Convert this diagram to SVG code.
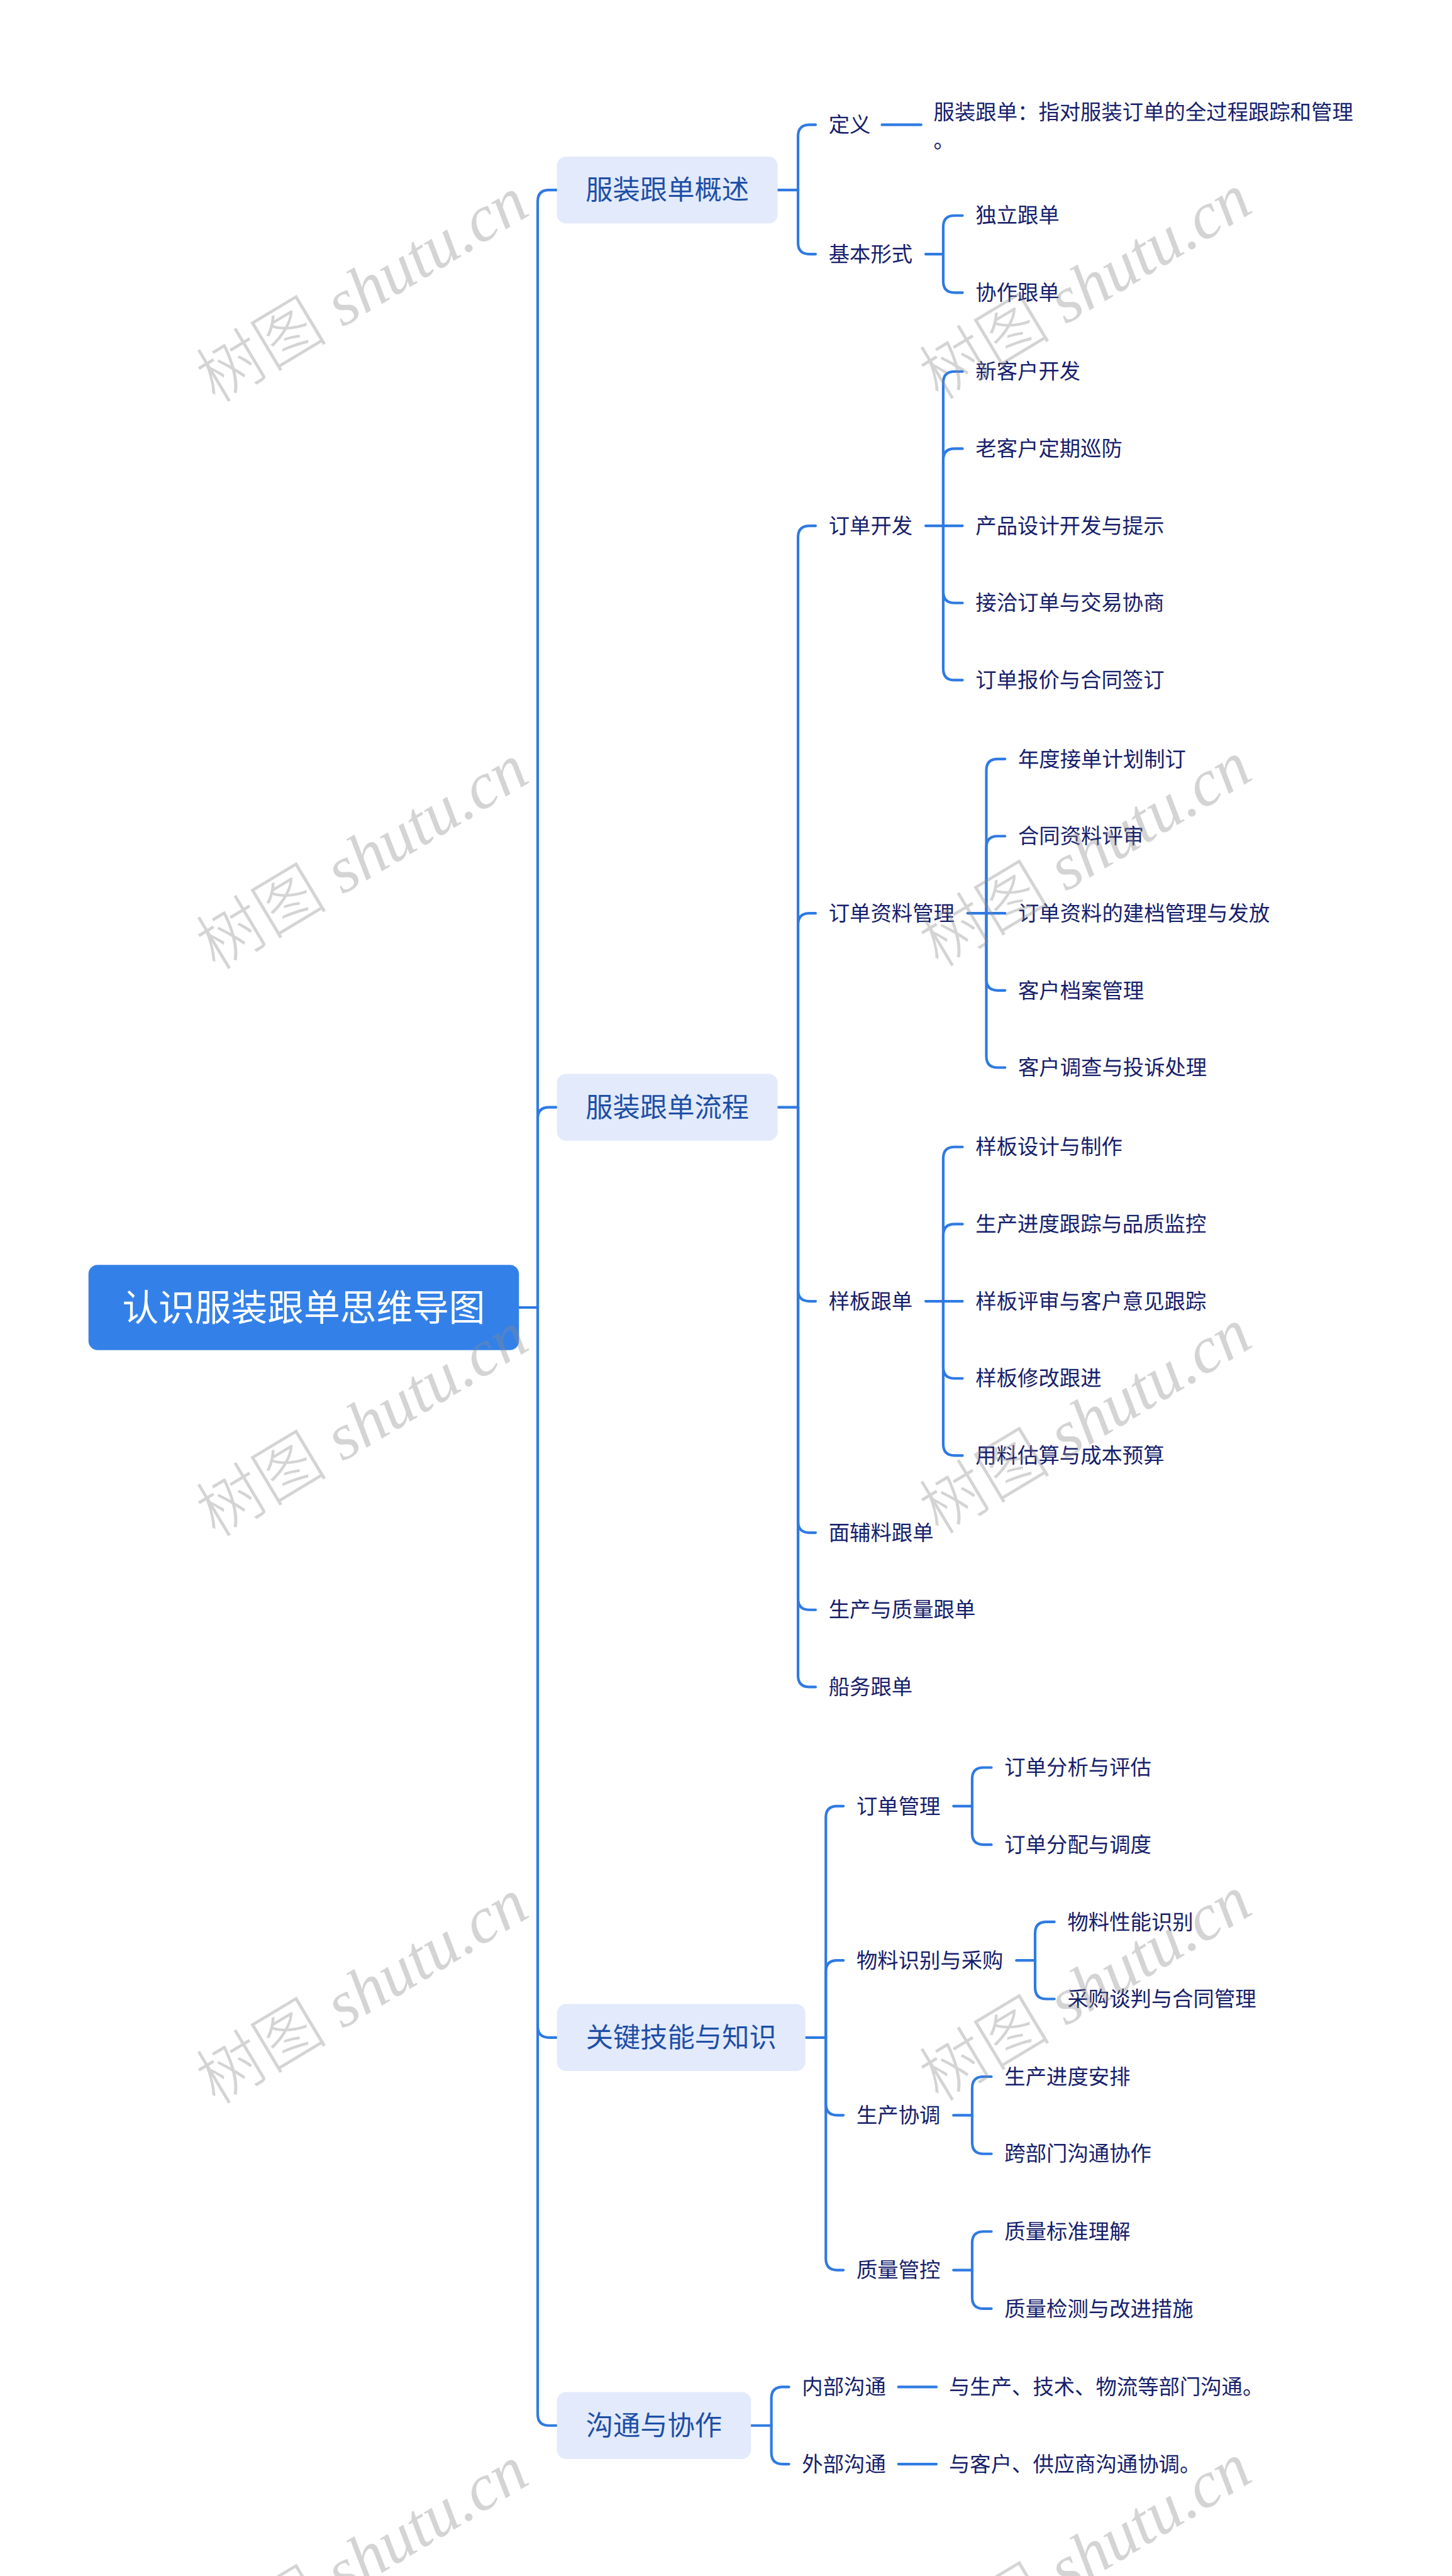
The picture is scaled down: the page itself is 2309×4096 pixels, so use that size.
<svg xmlns="http://www.w3.org/2000/svg" width="2309" height="4096" viewBox="0 0 2309 4096">
<style>
.c{fill:none;stroke:#2e7ae2;stroke-width:4.6;stroke-linecap:round;stroke-linejoin:round}
.t{font-family:"Noto Sans CJK SC","Noto Sans",sans-serif;font-size:37px;fill:#16206b}
.t1{font-family:"Noto Sans CJK SC","Noto Sans",sans-serif;font-size:48px;fill:#1e4fa6;text-anchor:middle}
.t0{font-family:"Noto Sans CJK SC","Noto Sans",sans-serif;font-size:64px;fill:#ffffff;text-anchor:middle}
.b1{fill:#e2eafb}
.wm{font-family:"Liberation Serif","Noto Sans CJK SC",serif;font-style:italic;font-size:116px;fill:#8a8a8a;opacity:0.36}
.wm .cj{font-style:normal;font-weight:300}
</style>
<rect width="2309" height="4096" fill="#ffffff"/>
<g transform="scale(0.90195)">
<g id="connectors">
<path class="c" d="M915,2305 H948"/>
<path class="c" d="M948,2305 V355 Q948,335 968,335 H982"/>
<path class="c" d="M948,2305 V1972 Q948,1952 968,1952 H982"/>
<path class="c" d="M948,2305 V3572 Q948,3592 968,3592 H982"/>
<path class="c" d="M948,2305 V4256 Q948,4276 968,4276 H982"/>
<path class="c" d="M1371,335 H1407"/>
<path class="c" d="M1407,335 V240 Q1407,220 1427,220 H1438"/>
<path class="c" d="M1407,335 V428 Q1407,448 1427,448 H1438"/>
<path class="c" d="M1555,220 H1624"/>
<path class="c" d="M1632,448 H1663"/>
<path class="c" d="M1663,448 V400 Q1663,380 1683,380 H1697"/>
<path class="c" d="M1663,448 V496 Q1663,516 1683,516 H1697"/>
<path class="c" d="M1371,1952 H1407"/>
<path class="c" d="M1407,1952 V947 Q1407,927 1427,927 H1438"/>
<path class="c" d="M1407,1952 V1630 Q1407,1610 1427,1610 H1438"/>
<path class="c" d="M1407,1952 V2274 Q1407,2294 1427,2294 H1438"/>
<path class="c" d="M1407,1952 V2682 Q1407,2702 1427,2702 H1438"/>
<path class="c" d="M1407,1952 V2818 Q1407,2838 1427,2838 H1438"/>
<path class="c" d="M1407,1952 V2954 Q1407,2974 1427,2974 H1438"/>
<path class="c" d="M1632,927 H1663"/>
<path class="c" d="M1663,927 V675 Q1663,655 1683,655 H1697"/>
<path class="c" d="M1663,927 V811 Q1663,791 1683,791 H1697"/>
<path class="c" d="M1663,927 H1697"/>
<path class="c" d="M1663,927 V1043 Q1663,1063 1683,1063 H1697"/>
<path class="c" d="M1663,927 V1179 Q1663,1199 1683,1199 H1697"/>
<path class="c" d="M1706,1610 H1739"/>
<path class="c" d="M1739,1610 V1358 Q1739,1338 1759,1338 H1772"/>
<path class="c" d="M1739,1610 V1494 Q1739,1474 1759,1474 H1772"/>
<path class="c" d="M1739,1610 H1772"/>
<path class="c" d="M1739,1610 V1726 Q1739,1746 1759,1746 H1772"/>
<path class="c" d="M1739,1610 V1862 Q1739,1882 1759,1882 H1772"/>
<path class="c" d="M1632,2294 H1663"/>
<path class="c" d="M1663,2294 V2042 Q1663,2022 1683,2022 H1697"/>
<path class="c" d="M1663,2294 V2178 Q1663,2158 1683,2158 H1697"/>
<path class="c" d="M1663,2294 H1697"/>
<path class="c" d="M1663,2294 V2410 Q1663,2430 1683,2430 H1697"/>
<path class="c" d="M1663,2294 V2546 Q1663,2566 1683,2566 H1697"/>
<path class="c" d="M1420,3592 H1456"/>
<path class="c" d="M1456,3592 V3204 Q1456,3184 1476,3184 H1487"/>
<path class="c" d="M1456,3592 V3476 Q1456,3456 1476,3456 H1487"/>
<path class="c" d="M1456,3592 V3709 Q1456,3729 1476,3729 H1487"/>
<path class="c" d="M1456,3592 V3982 Q1456,4002 1476,4002 H1487"/>
<path class="c" d="M1681,3184 H1714"/>
<path class="c" d="M1714,3184 V3136 Q1714,3116 1734,3116 H1748"/>
<path class="c" d="M1714,3184 V3232 Q1714,3252 1734,3252 H1748"/>
<path class="c" d="M1792,3456 H1825"/>
<path class="c" d="M1825,3456 V3408 Q1825,3388 1845,3388 H1859"/>
<path class="c" d="M1825,3456 V3504 Q1825,3524 1845,3524 H1859"/>
<path class="c" d="M1681,3729 H1714"/>
<path class="c" d="M1714,3729 V3681 Q1714,3661 1734,3661 H1748"/>
<path class="c" d="M1714,3729 V3777 Q1714,3797 1734,3797 H1748"/>
<path class="c" d="M1681,4002 H1714"/>
<path class="c" d="M1714,4002 V3954 Q1714,3934 1734,3934 H1748"/>
<path class="c" d="M1714,4002 V4050 Q1714,4070 1734,4070 H1748"/>
<path class="c" d="M1324,4276 H1360"/>
<path class="c" d="M1360,4276 V4228 Q1360,4208 1380,4208 H1391"/>
<path class="c" d="M1360,4276 V4324 Q1360,4344 1380,4344 H1391"/>
<path class="c" d="M1584,4208 H1651"/>
<path class="c" d="M1584,4344 H1651"/>
</g>
<g id="root"><rect x="156" y="2230" width="759" height="150" rx="16" fill="#3381e8"/><text class="t0" x="535.5" y="2328">认识服装跟单思维导图</text></g>
<g id="n-overview"><rect class="b1" x="982" y="276" width="389" height="118" rx="16"/><text class="t1" x="1176.5" y="352">服装跟单概述</text></g>
<g id="n-process"><rect class="b1" x="982" y="1893" width="389" height="118" rx="16"/><text class="t1" x="1176.5" y="1969">服装跟单流程</text></g>
<g id="n-skills"><rect class="b1" x="982" y="3533" width="438" height="118" rx="16"/><text class="t1" x="1201" y="3609">关键技能与知识</text></g>
<g id="n-comm"><rect class="b1" x="982" y="4217" width="342" height="118" rx="16"/><text class="t1" x="1153" y="4293">沟通与协作</text></g>
<g id="n-def"><text class="t" x="1461" y="233">定义</text></g>
<g id="n-def-text"><text class="t" x="1646" y="211">服装跟单：指对服装订单的全过程跟踪和管理</text><text class="t" x="1646" y="261">。</text></g>
<g id="n-form"><text class="t" x="1461" y="461">基本形式</text></g>
<g id="n-form-1"><text class="t" x="1720" y="393">独立跟单</text></g>
<g id="n-form-2"><text class="t" x="1720" y="529">协作跟单</text></g>
<g id="n-dev"><text class="t" x="1461" y="940">订单开发</text></g>
<g id="n-dev-1"><text class="t" x="1720" y="668">新客户开发</text></g>
<g id="n-dev-2"><text class="t" x="1720" y="804">老客户定期巡防</text></g>
<g id="n-dev-3"><text class="t" x="1720" y="940">产品设计开发与提示</text></g>
<g id="n-dev-4"><text class="t" x="1720" y="1076">接洽订单与交易协商</text></g>
<g id="n-dev-5"><text class="t" x="1720" y="1212">订单报价与合同签订</text></g>
<g id="n-data"><text class="t" x="1461" y="1623">订单资料管理</text></g>
<g id="n-data-1"><text class="t" x="1795" y="1351">年度接单计划制订</text></g>
<g id="n-data-2"><text class="t" x="1795" y="1487">合同资料评审</text></g>
<g id="n-data-3"><text class="t" x="1795" y="1623">订单资料的建档管理与发放</text></g>
<g id="n-data-4"><text class="t" x="1795" y="1759">客户档案管理</text></g>
<g id="n-data-5"><text class="t" x="1795" y="1895">客户调查与投诉处理</text></g>
<g id="n-sample"><text class="t" x="1461" y="2307">样板跟单</text></g>
<g id="n-sample-1"><text class="t" x="1720" y="2035">样板设计与制作</text></g>
<g id="n-sample-2"><text class="t" x="1720" y="2171">生产进度跟踪与品质监控</text></g>
<g id="n-sample-3"><text class="t" x="1720" y="2307">样板评审与客户意见跟踪</text></g>
<g id="n-sample-4"><text class="t" x="1720" y="2443">样板修改跟进</text></g>
<g id="n-sample-5"><text class="t" x="1720" y="2579">用料估算与成本预算</text></g>
<g id="n-fabric"><text class="t" x="1461" y="2715">面辅料跟单</text></g>
<g id="n-prod"><text class="t" x="1461" y="2851">生产与质量跟单</text></g>
<g id="n-ship"><text class="t" x="1461" y="2987">船务跟单</text></g>
<g id="n-order"><text class="t" x="1510" y="3197">订单管理</text></g>
<g id="n-order-1"><text class="t" x="1771" y="3129">订单分析与评估</text></g>
<g id="n-order-2"><text class="t" x="1771" y="3265">订单分配与调度</text></g>
<g id="n-mat"><text class="t" x="1510" y="3469">物料识别与采购</text></g>
<g id="n-mat-1"><text class="t" x="1882" y="3401">物料性能识别</text></g>
<g id="n-mat-2"><text class="t" x="1882" y="3537">采购谈判与合同管理</text></g>
<g id="n-coord"><text class="t" x="1510" y="3742">生产协调</text></g>
<g id="n-coord-1"><text class="t" x="1771" y="3674">生产进度安排</text></g>
<g id="n-coord-2"><text class="t" x="1771" y="3810">跨部门沟通协作</text></g>
<g id="n-qc"><text class="t" x="1510" y="4015">质量管控</text></g>
<g id="n-qc-1"><text class="t" x="1771" y="3947">质量标准理解</text></g>
<g id="n-qc-2"><text class="t" x="1771" y="4083">质量检测与改进措施</text></g>
<g id="n-int"><text class="t" x="1414" y="4221">内部沟通</text></g>
<g id="n-int-text"><text class="t" x="1673" y="4221">与生产、技术、物流等部门沟通。</text></g>
<g id="n-ext"><text class="t" x="1414" y="4357">外部沟通</text></g>
<g id="n-ext-text"><text class="t" x="1673" y="4357">与客户、供应商沟通协调。</text></g>
<g id="watermarks">
<text class="wm" transform="translate(380,712) rotate(-31)"><tspan class="cj">树图</tspan> shutu.cn</text>
<text class="wm" transform="translate(1655,707) rotate(-31)"><tspan class="cj">树图</tspan> shutu.cn</text>
<text class="wm" transform="translate(380,1712) rotate(-31)"><tspan class="cj">树图</tspan> shutu.cn</text>
<text class="wm" transform="translate(1655,1707) rotate(-31)"><tspan class="cj">树图</tspan> shutu.cn</text>
<text class="wm" transform="translate(380,2712) rotate(-31)"><tspan class="cj">树图</tspan> shutu.cn</text>
<text class="wm" transform="translate(1655,2707) rotate(-31)"><tspan class="cj">树图</tspan> shutu.cn</text>
<text class="wm" transform="translate(380,3712) rotate(-31)"><tspan class="cj">树图</tspan> shutu.cn</text>
<text class="wm" transform="translate(1655,3707) rotate(-31)"><tspan class="cj">树图</tspan> shutu.cn</text>
<text class="wm" transform="translate(380,4712) rotate(-31)"><tspan class="cj">树图</tspan> shutu.cn</text>
<text class="wm" transform="translate(1655,4707) rotate(-31)"><tspan class="cj">树图</tspan> shutu.cn</text>
</g>
</g>
</svg>
